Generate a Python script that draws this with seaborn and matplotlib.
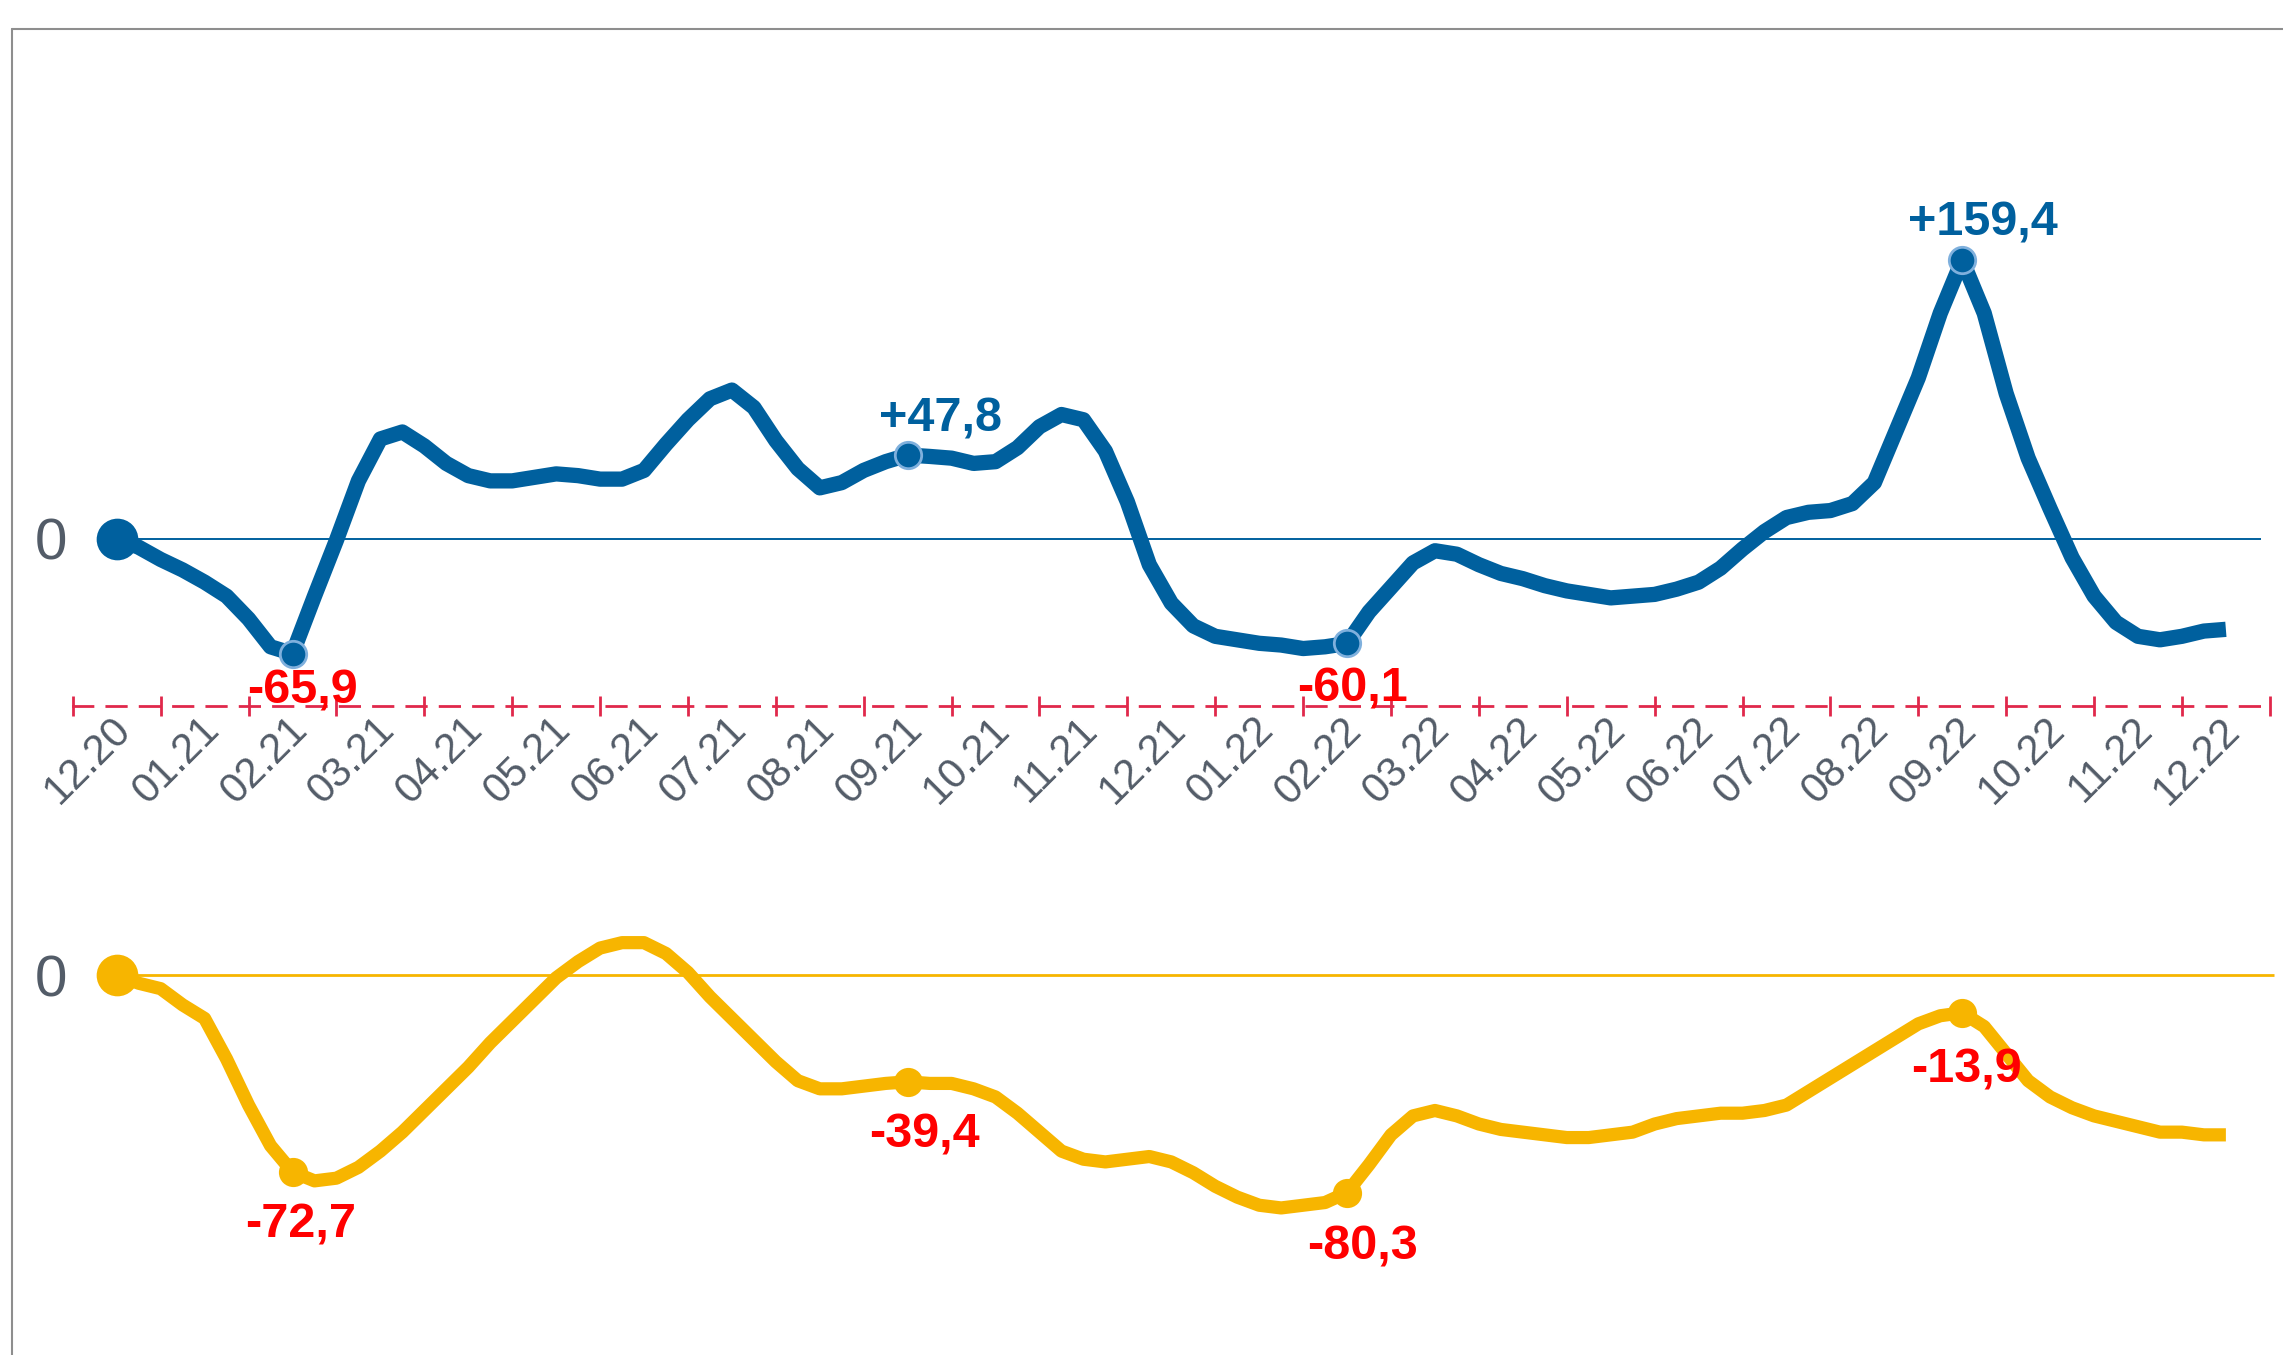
import numpy as np
import pandas as pd
import matplotlib
matplotlib.use("Agg")
import matplotlib.pyplot as plt
from matplotlib.transforms import ScaledTranslation
import seaborn as sns

MONTHS = ["12.20", "01.21", "02.21", "03.21", "04.21", "05.21", "06.21", "07.21",
          "08.21", "09.21", "10.21", "11.21", "12.21", "01.22", "02.22", "03.22",
          "04.22", "05.22", "06.22", "07.22", "08.22", "09.22", "10.22", "11.22",
          "12.22"]

BLUE = [0, -5, -12, -18, -25, -33, -46, -62, -65.9, -33, -1, 33, 57, 61, 53, 43,
        36, 33, 33, 35, 37, 36, 34, 34, 39, 54, 68, 80, 85, 75, 56, 40,
        29, 32, 39, 44, 47.8, 47, 46, 43, 44, 52, 64, 71, 68, 50, 21, -15,
        -37, -50, -56, -58, -60, -61, -63, -62, -60.1, -42, -28, -14, -7, -9, -15, -20,
        -23, -27, -30, -32, -34, -33, -32, -29, -25, -17, -6, 4, 12, 15, 16, 20,
        32, 62, 92, 129, 159.4, 129, 83, 46, 17, -11, -33, -48, -56, -58, -56, -53,
        -52]
YELLOW = [0, -3, -5, -11, -16, -31, -48, -63, -72.7, -76, -75, -71, -65, -58, -50, -42,
          -34, -25, -17, -9, -1, 5, 10, 12, 12, 8, 1, -8, -16, -24, -32, -39,
          -42, -42, -41, -40, -39.4, -40, -40, -42, -45, -51, -58, -65, -68, -69, -68, -67,
          -69, -73, -78, -82, -85, -86, -85, -84, -80.3, -70, -59, -52, -50, -52, -55, -57,
          -58, -59, -60, -60, -59, -58, -55, -53, -52, -51, -51, -50, -48, -43, -38, -33,
          -28, -23, -18, -15, -13.9, -19, -29, -39, -45, -49, -52, -54, -56, -58, -58, -59,
          -59]

MARKED = [2, 9, 14, 21]  # months with a label
BLUE_OFFS = [(7, -27), (24, 26), (4, -33), (15, 27)]
YELLOW_OFFS = [(6, -38), (12, -38), (11, -39), (3, -41)]

C_BLUE = "#00609E"
C_YEL = "#F7B500"
C_RED = "#FF0000"
C_AXIS = "#E0284B"
C_GREY = "#535C68"

sns.set_style("white")
plt.rcParams["font.family"] = ["Liberation Sans", "DejaVu Sans"]

df = pd.DataFrame({"t": np.arange(len(BLUE)) / 4, "blue": BLUE, "yellow": YELLOW})

W, H = 1568, 931  # layout grid of the reference
fig = plt.figure(figsize=(22.83, 13.55), dpi=100)
left = 50 / W
ax1 = fig.add_axes([left, 1 - 600 / H, 1 - left, 600 / H])
ax2 = fig.add_axes([left, 0, 1 - left, 1 - 600 / H])

xlim = (-0.5, 24.65)


def fmt(v):
    return f"{v:+.1f}".replace(".", ",")


def draw(ax, col, color, lw, offs, zero_lw, zero_end):
    sns.lineplot(data=df, x="t", y=col, ax=ax, color=color, linewidth=lw,
                 sort=False, solid_joinstyle="round", solid_capstyle="butt",
                 zorder=3)
    ax.hlines(0, df["t"].iloc[0], zero_end, color=color, linewidth=zero_lw, zorder=2)
    first = df.iloc[[0]]
    sns.scatterplot(data=first, x="t", y=col, ax=ax, color=color, s=30 ** 2,
                    edgecolor=color, linewidth=0, zorder=5, legend=False)
    pts = df[df["t"].isin(MARKED)]
    sns.scatterplot(data=pts, x="t", y=col, ax=ax, color=color, s=19 ** 2,
                    edgecolor="#7FB0DD" if color == C_BLUE else color,
                    linewidth=2, zorder=5, legend=False)
    for (_, r), off in zip(pts.iterrows(), offs):
        v = r[col]
        c = color if v > 0 else C_RED
        ax.annotate(fmt(v), (r["t"], v), xytext=off, textcoords="offset points",
                    ha="center", va="center", fontsize=35, fontweight="bold",
                    color=c, zorder=6)
    ax.set_xlim(*xlim)
    ax.set_yticks([0])
    ax.set_yticklabels(["0"], fontsize=42, color=C_GREY)
    ax.tick_params(axis="y", length=0, pad=4)
    ax.set_xlabel("")
    ax.set_ylabel("")
    for s in ["left", "right", "top"]:
        ax.spines[s].set_visible(False)


# blue panel: 1.2 px per unit, zero at y=370 of the 931 grid
draw(ax1, "blue", C_BLUE, 11, BLUE_OFFS, 1.4, 24.4)
ax1.set_ylim((370 - 600) / 1.2, 370 / 1.2)
axis_y = (370 - 485) / 1.2
sp = ax1.spines["bottom"]
sp.set_position(("data", axis_y))
sp.set_bounds(-0.5, 24.5)
sp.set_color(C_AXIS)
sp.set_linewidth(2)
sp.set_linestyle((0, (7, 5)))
ax1.set_xticks(np.arange(-0.5, 25, 1))
ax1.set_xticklabels([])
ax1.set_xticks(np.arange(len(MONTHS)), minor=True)
ax1.set_xticklabels(MONTHS, minor=True, rotation=45, ha="right", va="center",
                    rotation_mode="anchor", fontsize=30, color=C_GREY)
ax1.tick_params(axis="x", which="major", direction="inout", length=14, width=2,
                color=C_AXIS, bottom=True)
ax1.tick_params(axis="x", which="minor", length=0, pad=13, bottom=True)
shift = ScaledTranslation(6 / 72, 0, fig.dpi_scale_trans)
for lbl in ax1.get_xticklabels(minor=True):
    lbl.set_transform(lbl.get_transform() + shift)

# yellow panel: 1.86 px per unit, zero at y=670 of the grid
draw(ax2, "yellow", C_YEL, 9.5, YELLOW_OFFS, 2, 24.55)
ax2.set_ylim((670 - 931) / 1.86, (670 - 600) / 1.86)
ax2.spines["bottom"].set_visible(False)
ax2.set_xticks([])

# outer frame: left and top only
fig.add_artist(plt.Line2D([8 / W, 8 / W], [0, 1 - 20 / H], transform=fig.transFigure,
                          color="#8E8E8E", linewidth=1.5))
fig.add_artist(plt.Line2D([8 / W, 1], [1 - 20 / H, 1 - 20 / H],
                          transform=fig.transFigure, color="#8E8E8E", linewidth=1.5))

fig.savefig("out.png", dpi=100)
